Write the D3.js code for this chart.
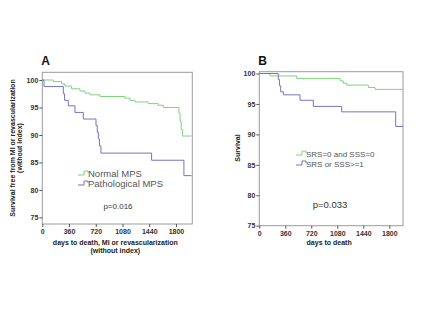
<!DOCTYPE html>
<html>
<head>
<meta charset="utf-8">
<script src="https://cdn.jsdelivr.net/npm/d3@7"></script>
<style>
  body { margin: 0; background: #fff; }
  svg { display: block; font-family: "Liberation Sans", Arial, sans-serif; }
  .tick text { font-size: 7px; font-weight: bold; fill: #333; }
  .tick line { stroke: #555; }
  .domain { stroke: none; }
</style>
</head>
<body>
<svg id="chart" width="440" height="330"></svg>
<script>
var dayTicks = [0, 360, 720, 1080, 1440, 1800];
var survTicks = [75, 80, 85, 90, 95, 100];

// panel A: step times (days) and survival (%) after each step
var normalDays = [0, 148, 261, 305, 395, 507, 575, 642, 777, 1113, 1180, 1248, 1427, 1561, 1629, 1840, 1855, 1870, 1890, 2010];
var normalSurv = [100, 99.7, 99.3, 98.9, 98.4, 98.0, 97.6, 97.3, 97.0, 96.7, 96.3, 96.0, 95.7, 95.4, 95.0, 94.0, 92.5, 91.0, 89.8, 89.8];
var pathDays = [0, 23, 283, 300, 350, 440, 552, 723, 740, 755, 770, 790, 1472, 1907, 2010];
var pathSurv = [100, 98.8, 97.5, 96.3, 95.3, 94.1, 92.9, 91.7, 90.5, 89.3, 88.0, 86.7, 85.4, 82.6, 82.6];

// panel B
var srs0Days = [0, 148, 518, 1118, 1163, 1210, 1510, 1602, 1990];
var srs0Surv = [100, 99.6, 99.2, 98.8, 98.4, 98.1, 97.7, 97.4, 97.4];
var srs1Days = [0, 263, 280, 296, 333, 564, 748, 1141, 1889, 1990];
var srs1Surv = [100, 99.0, 98.0, 97.0, 96.5, 95.6, 94.6, 93.7, 91.3, 91.3];

var green = "#7fd27f", blue = "#7474bf";
var svg = d3.select("#chart");

function panel(opt) {
    var g = svg.append("g");
    var x = d3.scaleLinear().domain(opt.xDomain).range(opt.xRange);
    var y = d3.scaleLinear().domain(opt.yDomain).range(opt.yRange);

    g.append("rect")
        .attr("x", opt.xRange[0]).attr("y", opt.yRange[1])
        .attr("width", opt.xRange[1] - opt.xRange[0])
        .attr("height", opt.yRange[0] - opt.yRange[1])
        .attr("fill", "none").attr("stroke", "#9a9a9a").attr("stroke-width", 1);

    g.append("g")
        .attr("transform", "translate(0," + opt.yRange[0] + ")")
        .call(d3.axisBottom(x).tickValues(dayTicks).tickFormat(d3.format("d")).tickSize(3).tickPadding(2));
    g.append("g")
        .attr("transform", "translate(" + opt.xRange[0] + ",0)")
        .call(d3.axisLeft(y).tickValues(survTicks).tickFormat(d3.format("d")).tickSize(3).tickPadding(1));

    var line = d3.line()
        .x(function (d) { return x(d[0]); })
        .y(function (d) { return y(d[1]); })
        .curve(d3.curveStepAfter);

    opt.series.forEach(function (s) {
        g.append("path")
            .datum(d3.zip(s.days, s.surv))
            .attr("d", line)
            .attr("fill", "none")
            .attr("stroke", s.color)
            .attr("stroke-width", 1);
    });

    // legend with little step symbols
    opt.series.forEach(function (s, i) {
        var ly = opt.legend[1] + i * opt.legend[3];
        var lx = opt.legend[0];
        g.append("path")
            .attr("d", "M" + lx + "," + (ly + 1) + "h6v-4h4v2")
            .attr("fill", "none").attr("stroke", s.color).attr("stroke-width", 1);
        g.append("text")
            .attr("x", lx + 10).attr("y", ly + 3)
            .attr("font-size", opt.legend[2]).attr("fill", "#555")
            .text(s.name);
    });

    g.append("text")
        .attr("x", opt.xRange[0] - 1).attr("y", 65)
        .attr("font-size", 12).attr("font-weight", "bold").attr("fill", "#111")
        .text(opt.letter);

    g.append("text")
        .attr("x", opt.pval[0]).attr("y", opt.pval[1])
        .attr("text-anchor", "middle")
        .attr("font-size", opt.pval[2]).attr("fill", "#333")
        .text(opt.pval[3]);

    opt.xLabel.forEach(function (t, i) {
        g.append("text")
            .attr("x", (opt.xRange[0] + opt.xRange[1]) / 2 - 2)
            .attr("y", 245 + i * 8)
            .attr("text-anchor", "middle")
            .attr("font-size", 7).attr("font-weight", "bold").attr("fill", "#222")
            .text(t);
    });

    opt.yLabel.forEach(function (t, i) {
        g.append("text")
            .attr("transform", "translate(" + (opt.yLabelX + i * 7) + ",148) rotate(-90)")
            .attr("text-anchor", "middle")
            .attr("font-size", 7).attr("font-weight", "bold").attr("fill", "#222")
            .text(t);
    });
}

panel({
    letter: "A",
    xDomain: [0, 2020], xRange: [42.3, 192.3],
    yDomain: [73.8, 101.4], yRange: [224, 72.3],
    series: [
        { name: "Normal MPS", days: normalDays, surv: normalSurv, color: green },
        { name: "Pathological MPS", days: pathDays, surv: pathSurv, color: blue }
    ],
    legend: [78, 174, 9.5, 10],
    pval: [118, 209, 8, "p=0.016"],
    xLabel: ["days to death, MI or revascularization", "(without index)"],
    yLabel: ["Survival free from MI or revascularization", "(without index)"],
    yLabelX: 15
});

panel({
    letter: "B",
    xDomain: [0, 1990], xRange: [259.3, 403],
    yDomain: [75, 100.3], yRange: [225.7, 71.7],
    series: [
        { name: "SRS=0 and SSS=0", days: srs0Days, surv: srs0Surv, color: green },
        { name: "SRS or SSS>=1", days: srs1Days, surv: srs1Surv, color: blue }
    ],
    legend: [296, 154, 8, 10],
    pval: [330, 207.5, 9.5, "p=0.033"],
    xLabel: ["days to death"],
    yLabel: ["Survival"],
    yLabelX: 240
});
</script>
</body>
</html>
